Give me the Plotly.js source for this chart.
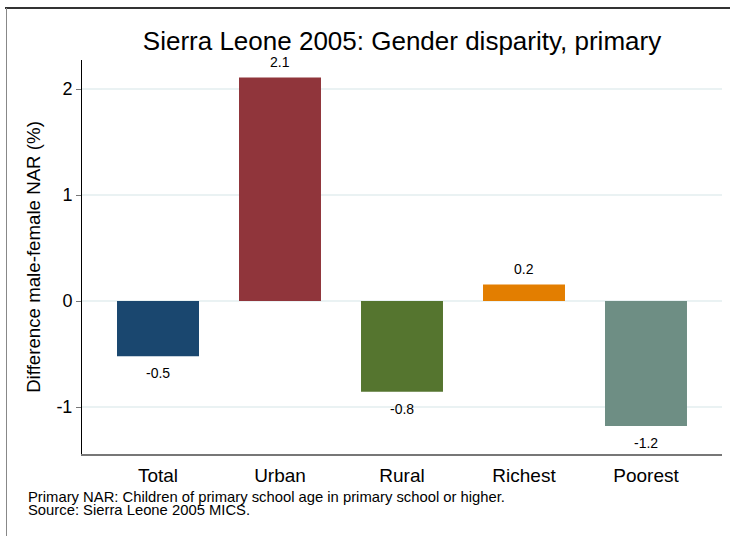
<!DOCTYPE html>
<html>
<head>
<meta charset="utf-8">
<script src="https://cdn.plot.ly/plotly-3.0.1.min.js"></script>
<style>
html,body{margin:0;padding:0;background:#fff;}
#chart{width:730px;height:536px;}
</style>
</head>
<body>
<div id="chart"></div>
<script>
var categories = ["Total", "Urban", "Rural", "Richest", "Poorest"];
var values = [-0.52, 2.11, -0.855, 0.157, -1.18];
var valueLabels = ["-0.5", "2.1", "-0.8", "0.2", "-1.2"];
var barColors = ["#1a476f", "#90353b", "#55752f", "#e37e00", "#6e8e84"];
var yTicks = [-1, 0, 1, 2];
var footnotes = ["Primary NAR: Children of primary school age in primary school or higher.", "Source: Sierra Leone 2005 MICS."];

var W = 730, H = 536, L = 82, R = 8, T = 60, B = 82;
var pw = W - L - R, ph = H - T - B;
function px(x){ return (x - L) / pw; }
function py(y){ return (H - B - y) / ph; }

var font = "Liberation Sans, Arial, Helvetica, sans-serif";

var trace = {
  type: "bar",
  x: categories,
  y: values,
  marker: {color: barColors, line: {width: 0}},
  width: 0.672,
  hoverinfo: "x+y"
};

var annotations = categories.map(function(c, i){
  var pos = values[i] >= 0;
  return {
    xref: "x", yref: "y", x: c, y: values[i],
    text: valueLabels[i], showarrow: false,
    yanchor: pos ? "bottom" : "top",
    yshift: pos ? 5 : -7,
    font: {family: font, size: 14, color: "#000"}
  };
});
footnotes.forEach(function(t, i){
  annotations.push({
    xref: "paper", yref: "paper",
    x: px(26), y: py(497 + 13 * i),
    xanchor: "left", yanchor: "middle", align: "left",
    showarrow: false, text: t,
    font: {family: font, size: 14.8, color: "#000"}
  });
});

var layout = {
  width: W, height: H,
  margin: {l: L, r: R, t: T, b: B},
  paper_bgcolor: "#fff",
  plot_bgcolor: "#fff",
  font: {family: font, color: "#000"},
  showlegend: false,
  title: {
    text: "Sierra Leone 2005: Gender disparity, primary",
    font: {family: font, size: 26, color: "#000"},
    x: px(402), xref: "paper", xanchor: "center",
    y: 1 - 41 / H, yref: "container", yanchor: "middle"
  },
  xaxis: {
    range: [-0.623, 4.623],
    showline: true, linecolor: "#777", linewidth: 2,
    showgrid: false, zeroline: false,
    ticks: "", ticklabelstandoff: 3,
    tickfont: {family: font, size: 19, color: "#000"},
    fixedrange: true
  },
  yaxis: {
    range: [-1.443, 2.274],
    tickvals: yTicks,
    ticktext: yTicks.map(String),
    showline: true, linecolor: "#000", linewidth: 1,
    showgrid: true, gridcolor: "#eaf2f3", gridwidth: 1.5,
    zeroline: true, zerolinecolor: "#eaf2f3", zerolinewidth: 1.5,
    ticks: "outside", ticklen: 5, tickcolor: "#777", tickwidth: 1,
    tickfont: {family: font, size: 18, color: "#000"},
    title: {text: "Difference male-female NAR (%)", font: {family: font, size: 18.7, color: "#000"}, standoff: 10},
    fixedrange: true
  },
  annotations: annotations,
  shapes: [
    {type: "line", xref: "paper", yref: "paper", x0: px(5), x1: px(730), y0: py(8), y1: py(8), line: {color: "#333", width: 2}},
    {type: "line", xref: "paper", yref: "paper", x0: px(6.5), x1: px(6.5), y0: py(8), y1: py(536), line: {color: "#888", width: 1}}
  ]
};

Plotly.newPlot("chart", [trace], layout, {displayModeBar: false, staticPlot: true});
</script>
</body>
</html>
